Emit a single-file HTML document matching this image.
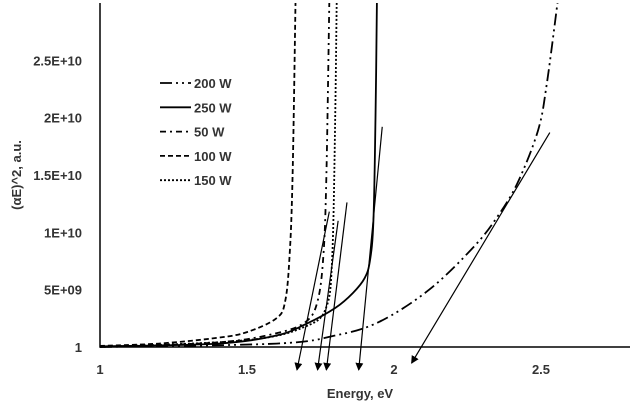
<!DOCTYPE html>
<html><head><meta charset="utf-8"><style>
body{margin:0;background:#fff}
svg{display:block;font-family:"Liberation Sans",Arial,sans-serif;font-weight:bold}
</style></head><body>
<svg id="c" width="630" height="406">
<g id="g"></g>
</svg>
<script>
const xTicks=[1,1.5,2,2.5];
const yTicks=[0,5,10,15,20,25];
const yTickLabels=["1","5E+09","1E+10","1.5E+10","2E+10","2.5E+10"];
const seriesNames=["200 W","250 W","50 W","100 W","150 W"];
const e200=[1.0,1.6,1.8,1.95,2.12,2.27,2.35,2.42,2.49,2.52,2.556];
const v200=[0,0.3,1.0,2.2,5.0,8.7,11.3,14.3,18.9,23,30];
const e250=[1.0,1.4,1.6,1.7,1.8,1.86,1.9,1.918,1.93,1.937,1.942];
const v250=[0.05,0.3,1.0,2.0,3.4,4.7,6.0,7.5,11,20,30];
const e50=[1.0,1.4,1.6,1.7,1.74,1.76,1.77,1.78];
const v50=[0,0.4,1.2,2.2,4,8,15,30];
const e100=[1.0,1.2,1.4,1.5,1.6,1.63,1.645,1.655,1.665];
const v100=[0.1,0.3,0.8,1.3,2.5,4,8,15,30];
const e150=[1.0,1.5,1.7,1.77,1.79,1.80,1.805];
const v150=[0,0.6,1.8,3.5,8,20,30];
const tanX1=[1.78,1.81,1.84,1.96,2.53];
const tanY1=[11.8,11.0,12.6,19.2,18.7];
const tanX2=[1.67,1.74,1.77,1.88,2.06];
const tanY2=[-2,-2,-2,-2,-1.4];
const x=e=>100+(e-1)*294;
const y=v=>347-v*11.47;
const NS="http://www.w3.org/2000/svg";
const g=document.getElementById('g');
function mk(t,a,p){const el=document.createElementNS(NS,t);for(const k in a)el.setAttribute(k,a[k]);(p||g).appendChild(el);return el;}
function smooth(P){let d='M'+P[0][0].toFixed(1)+','+P[0][1].toFixed(1);
for(let i=0;i<P.length-1;i++){const p0=P[i-1]||P[i],p1=P[i],p2=P[i+1],p3=P[i+2]||p2;
const c1=[p1[0]+(p2[0]-p0[0])/6,p1[1]+(p2[1]-p0[1])/6],c2=[p2[0]-(p3[0]-p1[0])/6,p2[1]-(p3[1]-p1[1])/6];
d+=` C${c1[0].toFixed(1)},${c1[1].toFixed(1)} ${c2[0].toFixed(1)},${c2[1].toFixed(1)} ${p2[0].toFixed(1)},${p2[1].toFixed(1)}`;}
return d;}
const defs=mk('defs',{});
const m=mk('marker',{id:'ar',markerWidth:8,markerHeight:8,refX:7,refY:4,orient:'auto',markerUnits:'userSpaceOnUse'},defs);
mk('path',{d:'M0,0 L8,4 L0,8 Z',fill:'#000'},m);
const ax=mk('path',{d:`M100,3 V${y(0)} H630`,stroke:'#000','stroke-width':1.5,fill:'none'});


xTicks.forEach(t=>{const el=mk('text',{x:x(t),y:374,'text-anchor':'middle','font-size':13,fill:'#333'});el.textContent=t;

});
yTicks.forEach((t,i)=>{const el=mk('text',{x:82,y:y(t)+5,'text-anchor':'end','font-size':13,fill:'#333'});el.textContent=yTickLabels[i];

});
const xt=mk('text',{x:360,y:398,'text-anchor':'middle','font-size':13,fill:'#333'});xt.textContent='Energy, eV';


const yt=mk('text',{x:0,y:0,'text-anchor':'middle','font-size':13,fill:'#333',transform:'translate(21,175) rotate(-90)'});yt.textContent='(αE)^2, a.u.';


const dashes=["12,4,2,4,2,4","none","6,4,2,4","5,3","2,2"];
const es=[e200,e250,e50,e100,e150], vs=[v200,v250,v50,v100,v150];
const clip=mk('clipPath',{id:'cp'},defs);mk('rect',{x:100,y:3,width:530,height:345},clip);
es.forEach((E,i)=>{const P=E.map((e,j)=>[x(e),y(vs[i][j])]);
const p=mk('path',{d:smooth(P),fill:'none',stroke:'#000','stroke-width':1.8,'stroke-dasharray':dashes[i],'clip-path':'url(#cp)'});

});
tanX1.forEach((e,i)=>{const l=mk('line',{x1:x(e),y1:y(tanY1[i]),x2:x(tanX2[i]),y2:y(tanY2[i]),stroke:'#000','stroke-width':1.2,'marker-end':'url(#ar)'});

});
seriesNames.forEach((n,i)=>{const yy=83+i*24.3;
const l=mk('line',{x1:160,y1:yy,x2:191,y2:yy,stroke:'#000','stroke-width':1.8,'stroke-dasharray':dashes[i]});


const t=mk('text',{x:194,y:yy+5,'font-size':13,fill:'#333'});t.textContent=n;

});
</script>
</body></html>
